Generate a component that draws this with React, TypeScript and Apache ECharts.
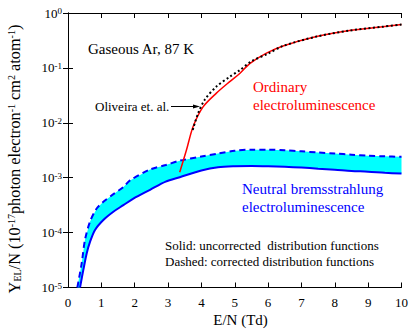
import React, { useEffect, useRef } from 'react';
import * as echarts from 'echarts';

// ---- data ----
const solidX = [0.36, 0.46, 0.56, 0.66, 0.81, 1.06, 1.36, 1.66, 1.96, 2.46, 2.93, 3.35, 4.0, 4.5, 5.0, 5.5, 6.0, 6.5, 7.0, 7.5, 8.0, 8.5, 9.0, 9.5, 10];
const solidY = [1.0e-5, 2.09e-5, 4.17e-5, 6.76e-5, 1.12e-4, 1.7e-4, 2.4e-4, 3.16e-4, 4.17e-4, 6.03e-4, 8.51e-4, 1.02e-3, 1.35e-3, 1.55e-3, 1.62e-3, 1.64e-3, 1.62e-3, 1.58e-3, 1.53e-3, 1.46e-3, 1.40e-3, 1.33e-3, 1.29e-3, 1.23e-3, 1.19e-3];

const dashedX = [0.28, 0.41, 0.51, 0.66, 0.86, 1.06, 1.36, 1.66, 1.86, 2.46, 2.93, 3.35, 4.0, 4.5, 5.0, 5.5, 6.0, 6.5, 7.0, 7.5, 8.0, 8.5, 9.0, 9.5, 10];
const dashedY = [1.0e-5, 2.75e-5, 7.41e-5, 1.58e-4, 2.75e-4, 3.63e-4, 5.01e-4, 6.76e-4, 8.91e-4, 1.41e-3, 1.70e-3, 2.04e-3, 2.43e-3, 2.75e-3, 3.09e-3, 3.24e-3, 3.24e-3, 3.16e-3, 3.02e-3, 2.88e-3, 2.75e-3, 2.63e-3, 2.51e-3, 2.45e-3, 2.4e-3];

const ordinaryX = [3.35, 3.55, 3.75, 4.05, 4.45, 4.85, 5.15, 5.45, 5.95, 6.45, 7.45, 8.44, 9.44, 10];
const ordinaryY = [1.26e-3, 3.16e-3, 8.5e-3, 1.95e-2, 3.47e-2, 5.62e-2, 7.9e-2, 0.12, 0.186, 0.251, 0.372, 0.479, 0.562, 0.617];

const oliveiraX = [3.74, 3.9, 4.1, 4.45, 4.85, 5.15, 5.5, 6.0, 6.45, 7.45, 8.44, 9.44, 10];
const oliveiraY = [7.4e-3, 1.48e-2, 2.63e-2, 4.57e-2, 6.9e-2, 9.1e-2, 0.132, 0.182, 0.251, 0.372, 0.479, 0.562, 0.617];

const xMin = 0;
const xMax = 10;
const yMin = 1e-5;
const yMax = 1;

const FONT = '"Liberation Serif", "Times New Roman", serif';

const toPairs = (xs: number[], ys: number[]) => xs.map((x, i) => [x, ys[i]]);

function txt(text: string, x: number, y: number, size: number, color: string, align = 'left') {
  return {
    type: 'text', x, y,
    style: {
      text, fill: color, fontSize: size, fontFamily: FONT,
      align, verticalAlign: 'middle',
    },
  };
}

function buildOption(): any {
  const axisCommon = {
    axisLine: { show: true, lineStyle: { color: '#000', width: 1 } },
    axisTick: { show: true, inside: true, length: 5, lineStyle: { color: '#000', width: 1 } },
    splitLine: { show: false },
    minorTick: { show: false },
  };
  return {
    animation: false,
    backgroundColor: '#fff',
    grid: { left: 68, right: 9, top: 13, bottom: 43.5 },
    xAxis: [
      {
        type: 'value', min: xMin, max: xMax, interval: 1, position: 'bottom',
        ...axisCommon,
        axisLabel: { color: '#000', fontFamily: FONT, fontSize: 13, margin: 8 },
      },
      {
        type: 'value', min: xMin, max: xMax, interval: 1, position: 'top',
        ...axisCommon,
        axisLabel: { show: false },
      },
    ],
    yAxis: [
      {
        type: 'log', logBase: 10, min: yMin, max: yMax, position: 'left',
        ...axisCommon,
        axisLabel: {
          color: '#000', fontFamily: FONT, fontSize: 13, margin: 6,
          formatter: (v: number) => '10{sup|' + Math.round(Math.log10(v)) + '}',
          rich: { sup: { fontSize: 9, fontFamily: FONT, color: '#000', verticalAlign: 'top' } },
        },
      },
      {
        type: 'log', logBase: 10, min: yMin, max: yMax, position: 'right',
        ...axisCommon,
        axisLabel: { show: false },
      },
    ],
    series: [
      {
        type: 'custom',
        coordinateSystem: 'cartesian2d',
        xAxisIndex: 0, yAxisIndex: 0,
        silent: true,
        data: [[5, 2e-3]],
        encode: { x: 0, y: 1 },
        renderItem: (params: any, api: any) => {
          const upper = dashedX.map((x, i) => api.coord([x, dashedY[i]]));
          const lower = solidX.map((x, i) => api.coord([x, solidY[i]])).reverse();
          return {
            type: 'polygon',
            shape: { points: upper.concat(lower) },
            style: { fill: '#00ffff', stroke: 'none' },
          };
        },
        z: 1,
      },
      {
        type: 'line', name: 'solid', data: toPairs(solidX, solidY),
        showSymbol: false, smooth: 0.3,
        lineStyle: { color: '#0000ff', width: 2 }, z: 3,
      },
      {
        type: 'line', name: 'dashed', data: toPairs(dashedX, dashedY),
        showSymbol: false, smooth: 0.3,
        lineStyle: { color: '#0000ff', width: 2, type: [6, 4] }, z: 3,
      },
      {
        type: 'line', name: 'ordinary', data: toPairs(ordinaryX, ordinaryY),
        showSymbol: false, smooth: 0.3,
        lineStyle: { color: '#ff0000', width: 1.5 }, z: 4,
      },
      {
        type: 'line', name: 'oliveira', data: toPairs(oliveiraX, oliveiraY),
        showSymbol: false, smooth: 0.3,
        lineStyle: { color: '#000', width: 2, type: [2, 2.5] }, z: 5,
      },
    ],
    graphic: [
      txt('Gaseous Ar, 87 K', 88, 49, 15, '#000'),
      txt('Oliveira et. al.', 95, 106.6, 13, '#000'),
      { type: 'line', shape: { x1: 171, y1: 106.5, x2: 195, y2: 106.5 }, style: { stroke: '#000', lineWidth: 1 } },
      { type: 'polygon', shape: { points: [[200, 106.5], [193, 104.6], [193, 108.4]] }, style: { fill: '#000' } },
      txt('Ordinary', 253, 87, 15, '#ff0000'),
      txt('electroluminescence', 253, 104.8, 15, '#ff0000'),
      txt('Neutral bremsstrahlung', 242, 189, 15, '#0000ff'),
      txt('electroluminescence', 242, 206.7, 15, '#0000ff'),
      txt('Solid: uncorrected\u00a0 distribution functions', 165, 245, 13, '#000'),
      txt('Dashed: corrected distribution functions', 165, 261.6, 13, '#000'),
      txt('E/N (Td)', 240.5, 320, 15, '#000', 'center'),
      {
        type: 'text', x: 14, y: 159, rotation: Math.PI / 2,
        style: {
          text: 'Y{sub|EL}/N (10{sup|-17}photon electron{sup|-1} cm{sup|2} atom{sup|-1})',
          fill: '#000', fontSize: 16.3, fontFamily: FONT,
          align: 'center', verticalAlign: 'middle',
          rich: {
            sup: { fontSize: 10, fontFamily: FONT, fill: '#000', verticalAlign: 'top' },
            sub: { fontSize: 10, fontFamily: FONT, fill: '#000', verticalAlign: 'bottom' },
          },
        },
      },
    ],
  };
}

export default function App() {
  const ref = useRef<HTMLDivElement>(null);
  useEffect(() => {
    if (!ref.current) return;
    const chart = echarts.init(ref.current, null, { renderer: 'svg' });
    chart.setOption(buildOption());
    return () => chart.dispose();
  }, []);
  return (
    <div
      ref={ref}
      style={{ position: 'fixed', left: 0, top: 0, width: 411, height: 331, background: '#fff' }}
    />
  );
}
